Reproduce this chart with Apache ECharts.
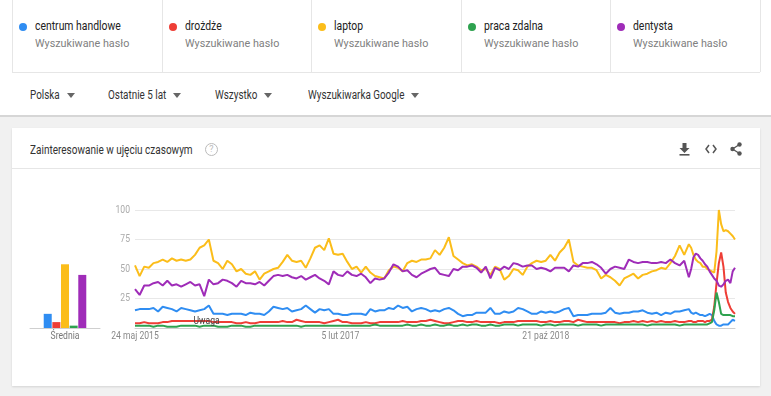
<!DOCTYPE html>
<html><head><meta charset="utf-8">
<script src="https://cdn.jsdelivr.net/npm/echarts@6/dist/echarts.min.js"></script>
<style>
html,body{margin:0;padding:0;width:771px;height:396px;overflow:hidden;background:#f1f1f1;font-family:Roboto,Arial,sans-serif;}
.sx{display:inline-block;transform-origin:0 50%;white-space:nowrap;}
#top{position:absolute;left:0;top:0;width:771px;height:115px;background:#fff;border-bottom:2px solid #d6d6d6;}
.term{position:absolute;top:0;height:72px;border-left:1px solid #e6e6e6;}
.term .dot{position:absolute;left:6px;top:23px;width:8px;height:8px;border-radius:50%;}
.term .name{position:absolute;left:22px;top:18px;font-size:13px;color:#222;transform:scaleX(0.8);}
.term .sub{position:absolute;left:22px;top:37px;font-size:11px;color:#808080;transform:scaleX(0.98);}
#hline{position:absolute;left:12px;top:72px;width:748px;height:1px;background:#e6e6e6;}
.dd{position:absolute;top:87px;font-size:12.5px;color:#333;transform:scaleX(0.79);}
.arr{position:absolute;top:93px;width:0;height:0;border-left:4px solid transparent;border-right:4px solid transparent;border-top:5px solid #666;}
#card{position:absolute;left:12px;top:128px;width:748px;height:258px;background:#fff;box-shadow:0 1px 2px rgba(0,0,0,0.12);}
#ctitle{position:absolute;left:18px;top:14px;font-size:13px;color:#333;transform:scaleX(0.77);}
#qm{position:absolute;left:193px;top:15px;width:11px;height:11px;border:1px solid #bbb;border-radius:50%;font-size:9px;color:#bbb;text-align:center;line-height:11px;}
#csep{position:absolute;left:0;top:40px;width:748px;height:1px;background:#e6e6e6;}
#chart{position:absolute;left:0;top:0;width:771px;height:396px;}
</style></head>
<body>
<div id="top">
  <div id="terms"></div>
  <div id="hline"></div>
  <div id="dds"></div>
</div>
<div id="card">
  <div id="ctitle" class="sx">Zainteresowanie w ujęciu czasowym</div>
  <div id="qm">?</div>
  <div id="csep"></div>
  <svg style="position:absolute;left:667px;top:15px" width="11" height="13" viewBox="0 0 11 13">
    <path d="M3.5 0h4v5h3l-5 5-5-5h3z" fill="#555"/><rect x="0.5" y="11" width="10" height="1.6" fill="#555"/>
  </svg>
  <svg style="position:absolute;left:693px;top:16px" width="12" height="10" viewBox="0 0 12 10">
    <path d="M4 1L1 5l3 4M8 1l3 4-3 4" stroke="#555" stroke-width="1.5" fill="none"/>
  </svg>
  <svg style="position:absolute;left:718px;top:14px" width="12" height="14" viewBox="0 0 12 14">
    <path d="M9.5 2.5L2.5 7l7 4.5" stroke="#555" stroke-width="1.3" fill="none"/>
    <circle cx="9.5" cy="2.5" r="2.2" fill="#555"/><circle cx="2.5" cy="7" r="2.2" fill="#555"/><circle cx="9.5" cy="11.5" r="2.2" fill="#555"/>
  </svg>
</div>
<div id="chart"></div>
<script>
// ---- data ----
const termNames = ['centrum handlowe','drożdże','laptop','praca zdalna','dentysta'];
const termSub = 'Wyszukiwane hasło';
const filters = ['Polska','Ostatnie 5 lat','Wszystko','Wyszukiwarka Google'];
const colors = ['#2f8df2','#ee3e36','#fbbd1a','#2ea24f','#9f2cb8'];
const avgLabel = 'Średnia';
const averages = [12, 5, 54, 2, 45];
const tickLabels = ['24 maj 2015','5 lut 2017','21 paź 2018'];
const tickStepWeeks = 89;
const yTicks = [25, 50, 75, 100];
const noteLabel = 'Uwaga';
const noteWeek = 31;
const noteValue = 6;

// week index (from 24 maj 2015): biweekly until 240, then weekly
const weeks = [];
for (let w = 0; w <= 240; w += 2) weeks.push(w);
for (let w = 241; w <= 260; w++) weeks.push(w);

const centrum = [15,16,16,16,17,14,18,17,16,14,17,16,15,14,15,16,19,12,12,12,11,12,
12,12,11,13,12,12,11,14,18,17,16,17,14,15,16,19,16,13,16,15,16,12,
12,11,11,12,12,12,11,16,14,15,15,17,16,19,17,18,14,16,17,16,14,15,
14,16,17,15,12,10,11,11,13,13,13,17,12,12,14,13,14,17,16,14,12,
12,14,13,14,13,14,16,17,10,11,11,11,12,12,12,13,17,13,12,13,13,14,
14,15,13,12,13,11,13,12,14,14,15,16,
13,12,13,12,11,11,10,11,12,11,6,3,2,2,3,3,3,5,7,6];

const drozdze = [4,4,5,4,4,4,5,5,6,6,6,6,6,6,6,6,6,5,5,5,5,5,
4,4,5,4,4,5,5,5,5,5,6,5,5,7,6,5,5,5,5,4,5,6,
7,5,5,4,4,4,5,4,4,5,5,5,5,5,6,5,5,5,6,6,7,6,
5,4,4,5,6,6,5,5,6,5,5,5,5,4,5,5,5,6,6,6,6,
6,5,5,6,5,5,6,6,5,7,6,5,5,5,5,5,5,5,4,5,5,6,
5,6,5,6,5,6,5,5,6,5,5,6,
6,5,5,6,6,6,5,6,6,7,18,38,55,64,52,30,22,17,14,12];

const laptop = [53,44,52,51,55,56,58,56,59,57,58,57,58,62,68,70,75,57,55,50,57,54,
48,50,46,45,48,41,46,48,50,51,56,62,57,56,57,51,59,68,70,66,76,63,
62,63,56,50,52,47,52,47,44,43,42,49,52,51,48,55,57,56,58,58,59,66,
62,68,77,61,58,55,53,54,52,49,50,45,52,50,41,44,50,49,45,52,55,
57,56,57,62,57,64,68,75,56,53,52,51,51,49,42,45,43,40,36,42,44,46,
42,45,46,48,49,51,50,55,61,70,62,71,
68,62,58,56,55,52,52,50,49,48,47,65,100,88,82,83,82,80,78,75];

const praca = [2,2,2,2,1,2,2,1,1,1,2,2,2,2,1,2,2,2,1,1,1,2,
2,2,1,1,2,2,2,2,2,2,2,2,2,2,1,2,2,2,2,2,2,2,
2,2,2,2,2,2,2,2,3,2,2,2,2,2,2,3,2,2,3,2,2,3,
2,2,3,2,2,3,2,3,3,2,2,3,2,2,3,3,3,2,3,3,3,
3,2,3,3,2,3,3,3,3,2,3,3,3,3,2,3,3,3,3,3,3,3,
3,3,2,3,3,3,3,3,3,2,3,3,
3,3,3,3,3,3,3,3,4,5,15,30,22,12,11,11,11,11,10,10];

const dentysta = [33,28,36,36,38,39,36,40,36,37,35,37,39,36,37,27,41,37,38,41,40,38,
35,40,38,38,37,39,36,40,44,45,44,45,43,42,44,41,43,45,42,40,37,48,
45,44,48,45,44,46,43,38,42,41,42,47,54,52,48,49,45,43,46,48,50,51,
46,45,44,50,49,52,52,53,51,47,52,42,51,49,52,50,55,54,52,53,53,
50,51,50,48,51,51,51,48,53,52,55,55,56,54,51,46,50,52,51,50,58,56,
55,56,56,55,55,56,55,58,55,53,57,43,
50,60,63,62,59,57,54,52,48,45,42,40,36,35,37,40,41,38,48,51];

// ---- html parts ----
const termsEl = document.getElementById('terms');
termNames.forEach((t, i) => {
  const d = document.createElement('div');
  d.className = 'term';
  d.style.left = (12 + i * 149.6) + 'px';
  d.style.width = '149px';
  d.innerHTML = '<div class="dot" style="background:' + colors[i] + '"></div><div class="name sx">' + t + '</div><div class="sub sx">' + termSub + '</div>';
  termsEl.appendChild(d);
});
const last = document.createElement('div');
last.className = 'term'; last.style.left = '760px'; last.style.width = '1px';
termsEl.appendChild(last);
const ddEl = document.getElementById('dds');
const ddX = [30, 108, 215, 308];
filters.forEach((f, i) => {
  const d = document.createElement('div');
  d.className = 'dd sx'; d.style.left = ddX[i] + 'px';
  d.textContent = f;
  ddEl.appendChild(d);
  const r = d.getBoundingClientRect();
  const a = document.createElement('div');
  a.className = 'arr'; a.style.left = (r.right + 7) + 'px';
  ddEl.appendChild(a);
});

// ---- chart ----
const FONT = 'Roboto, sans-serif';
const SX = 0.78;
const seriesData = [centrum, drozdze, laptop, praca, dentysta];
const chart = echarts.init(document.getElementById('chart'), null, {renderer: 'canvas'});
const series = [];
seriesData.forEach((arr, i) => {
  series.push({
    type: 'bar', xAxisIndex: 0, yAxisIndex: 0, data: [averages[i]],
    barWidth: 8, barGap: '8%', itemStyle: {color: colors[i]}, silent: true
  });
});
seriesData.forEach((arr, i) => {
  series.push({
    type: 'line', xAxisIndex: 1, yAxisIndex: 1,
    data: weeks.map((w, k) => [w, arr[k]]),
    showSymbol: false, lineStyle: {width: 2, color: colors[i]}, itemStyle: {color: colors[i]},
    silent: true, z: 2
  });
});
chart.setOption({
  animation: false,
  textStyle: {fontFamily: FONT},
  grid: [
    {left: 30, width: 70, top: 210, bottom: 68},
    {left: 135, right: 36, top: 210, bottom: 68}
  ],
  xAxis: [
    {type: 'category', gridIndex: 0, data: [avgLabel],
     axisLine: {lineStyle: {color: '#cfcfcf', width: 1}}, axisTick: {show: false},
     axisLabel: {show: false}},
    {type: 'value', gridIndex: 1, min: 0, max: 260, interval: tickStepWeeks,
     axisLine: {show: true, lineStyle: {color: '#cfcfcf'}}, axisTick: {show: false}, splitLine: {show: false},
     axisLabel: {show: false}}
  ],
  yAxis: [
    {type: 'value', gridIndex: 0, min: 0, max: 100, show: false},
    {type: 'value', gridIndex: 1, min: 0, max: 100, interval: 25,
     axisLine: {show: false}, axisTick: {show: false},
     splitLine: {lineStyle: {color: '#e8e8e8'}},
     axisLabel: {show: false}}
  ],
  series: series
});

// axis labels placed through the axes' own scales (narrow text like the original)
function txt(x, y, text, fill, align, vAlign, size) {
  return {type: 'text', x: x, y: y, scaleX: SX, silent: true, z: 10,
    style: {text: text, fill: fill, font: size + 'px ' + FONT,
      textAlign: align, align: align, textVerticalAlign: vAlign, verticalAlign: vAlign}};
}
const gfx = [];
const y0 = chart.convertToPixel({yAxisIndex: 1}, 0);
tickLabels.forEach((t, k) => {
  const px = chart.convertToPixel({xAxisIndex: 1}, k * tickStepWeeks);
  gfx.push(txt(px, y0 + 3, t, '#888', 'center', 'top', 11));
});
yTicks.forEach(v => {
  const py = chart.convertToPixel({yAxisIndex: 1}, v);
  gfx.push(txt(130, py, String(v), '#aaa', 'right', 'middle', 11));
});
const avgX = chart.convertToPixel({xAxisIndex: 0}, avgLabel);
gfx.push(txt(avgX, chart.convertToPixel({yAxisIndex: 0}, 0) + 3, avgLabel, '#777', 'center', 'top', 11));
const note = chart.convertToPixel({xAxisIndex: 1, yAxisIndex: 1}, [noteWeek, noteValue]);
gfx.push(txt(note[0], note[1], noteLabel, '#444', 'center', 'middle', 11));
chart.setOption({graphic: gfx});
</script>
</body></html>
